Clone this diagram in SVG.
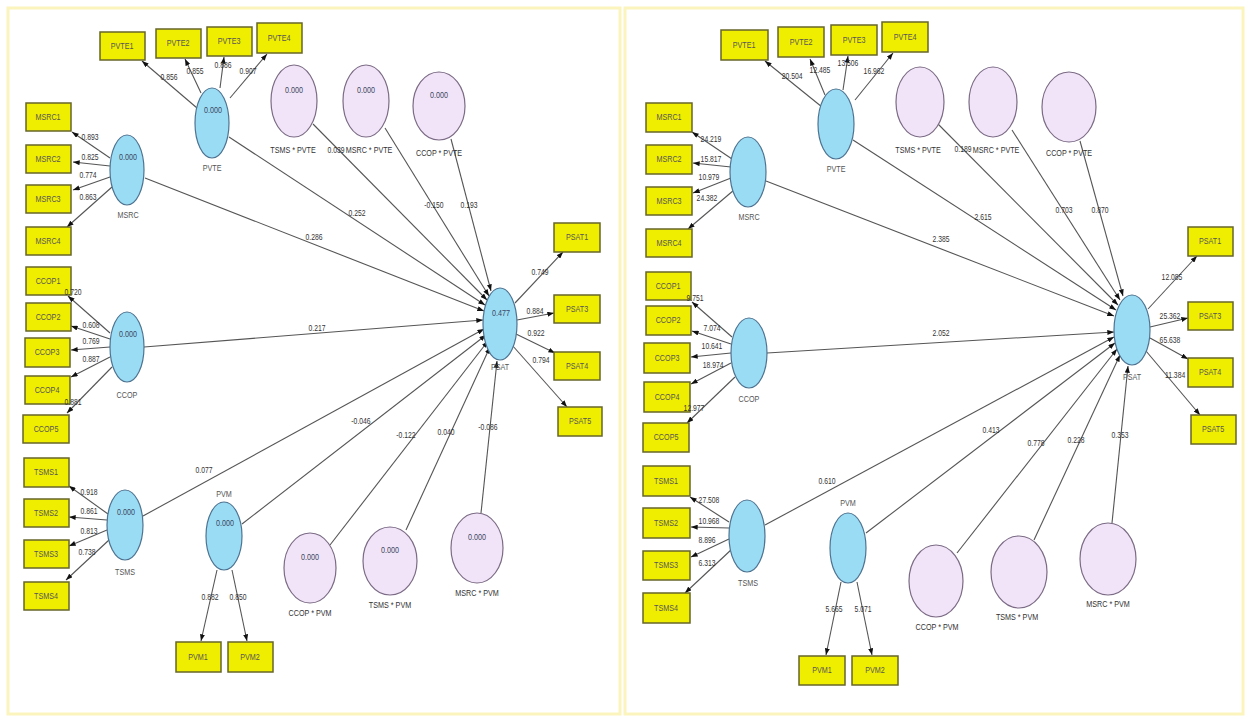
<svg xmlns="http://www.w3.org/2000/svg" width="1253" height="724" viewBox="0 0 1253 724">
<style>
.ind rect{fill:#f0ee00;stroke:#66662a;stroke-width:1.5}
.lv ellipse{fill:#9bdcf5;stroke:#4d7391;stroke-width:1.2}
.it ellipse{fill:#f2e4f8;stroke:#7b6b85;stroke-width:1.2}
text{font-family:"Liberation Sans Narrow","Liberation Sans",sans-serif;text-anchor:middle;transform-box:fill-box;transform-origin:center;transform:scaleX(0.8)}
.t{font-size:9px;fill:#555}
.v{font-size:9px;fill:#3a4660}
.lb{font-size:9px;fill:#333}
.n{font-size:8.5px;fill:#333}
.c line{stroke:#555;stroke-width:1.1;marker-end:url(#ah)}
.frame{fill:#fff;stroke:#fbf4bd;stroke-width:3}
</style>
<defs>
<marker id="ah" viewBox="0 0 8 6" refX="8" refY="3" markerWidth="7" markerHeight="5" orient="auto" markerUnits="userSpaceOnUse">
<path d="M0,0 L8,3 L0,6 z" fill="#111"/>
</marker>
</defs>
<rect width="1253" height="724" fill="#fff"/>
<rect class="frame" x="8" y="8" width="612" height="706"/>
<rect class="frame" x="625" y="8" width="618" height="706"/>

<!-- LEFT PANEL CONNECTORS -->
<g id="connectors-left" class="c">
<line x1="197" y1="108" x2="142" y2="61"/>
<line x1="201" y1="93" x2="185" y2="59"/>
<line x1="220" y1="88" x2="224" y2="57"/>
<line x1="230" y1="98" x2="267" y2="54"/>
<line x1="110" y1="158" x2="72" y2="132"/>
<line x1="110" y1="166" x2="73" y2="162"/>
<line x1="110" y1="177" x2="73" y2="190"/>
<line x1="112" y1="187" x2="67" y2="227"/>
<line x1="110" y1="333" x2="68" y2="296"/>
<line x1="110" y1="339" x2="71" y2="326"/>
<line x1="110" y1="347" x2="71" y2="350"/>
<line x1="110" y1="357" x2="71" y2="377"/>
<line x1="112" y1="367" x2="67" y2="413"/>
<line x1="108" y1="514" x2="69" y2="486"/>
<line x1="107" y1="520" x2="69" y2="517"/>
<line x1="107" y1="530" x2="69" y2="546"/>
<line x1="109" y1="540" x2="66" y2="580"/>
<line x1="217" y1="570" x2="201" y2="641"/>
<line x1="232" y1="570" x2="247" y2="641"/>
<line x1="515" y1="303" x2="563" y2="252"/>
<line x1="517" y1="320" x2="554" y2="313"/>
<line x1="516" y1="334" x2="555" y2="353"/>
<line x1="512" y1="345" x2="567" y2="407"/>
<line x1="145" y1="178" x2="484" y2="311"/>
<line x1="229" y1="137" x2="485" y2="305"/>
<line x1="313" y1="124" x2="487" y2="300"/>
<line x1="385" y1="128" x2="489" y2="296"/>
<line x1="451" y1="139" x2="491" y2="291"/>
<line x1="144" y1="347" x2="483" y2="320"/>
<line x1="143" y1="516" x2="484" y2="329"/>
<line x1="242" y1="524" x2="486" y2="335"/>
<line x1="330" y1="545" x2="488" y2="341"/>
<line x1="406" y1="530" x2="490" y2="347"/>
<line x1="481" y1="513" x2="497" y2="361"/>
</g>

<!-- LEFT PANEL NODES -->
<g id="L-PVTE1" class="ind"><rect x="100" y="32" width="45" height="28"/><text class="t" x="122" y="49">PVTE1</text></g>
<g id="L-PVTE2" class="ind"><rect x="156" y="29" width="45" height="29"/><text class="t" x="178" y="46">PVTE2</text></g>
<g id="L-PVTE3" class="ind"><rect x="207" y="27" width="45" height="29"/><text class="t" x="229" y="44">PVTE3</text></g>
<g id="L-PVTE4" class="ind"><rect x="257" y="23" width="45" height="30"/><text class="t" x="279" y="41">PVTE4</text></g>
<g id="L-MSRC1" class="ind"><rect x="26" y="103" width="45" height="28"/><text class="t" x="48" y="120">MSRC1</text></g>
<g id="L-MSRC2" class="ind"><rect x="26" y="145" width="45" height="28"/><text class="t" x="48" y="162">MSRC2</text></g>
<g id="L-MSRC3" class="ind"><rect x="26" y="185" width="45" height="28"/><text class="t" x="48" y="202">MSRC3</text></g>
<g id="L-MSRC4" class="ind"><rect x="26" y="227" width="45" height="28"/><text class="t" x="48" y="244">MSRC4</text></g>
<g id="L-CCOP1" class="ind"><rect x="26" y="267" width="45" height="28"/><text class="t" x="48" y="284">CCOP1</text></g>
<g id="L-CCOP2" class="ind"><rect x="26" y="303" width="45" height="28"/><text class="t" x="48" y="320">CCOP2</text></g>
<g id="L-CCOP3" class="ind"><rect x="25" y="338" width="45" height="29"/><text class="t" x="47" y="355">CCOP3</text></g>
<g id="L-CCOP4" class="ind"><rect x="25" y="376" width="45" height="28"/><text class="t" x="47" y="393">CCOP4</text></g>
<g id="L-CCOP5" class="ind"><rect x="23" y="415" width="46" height="28"/><text class="t" x="46" y="432">CCOP5</text></g>
<g id="L-TSMS1" class="ind"><rect x="24" y="458" width="45" height="29"/><text class="t" x="46" y="475">TSMS1</text></g>
<g id="L-TSMS2" class="ind"><rect x="24" y="499" width="45" height="28"/><text class="t" x="46" y="516">TSMS2</text></g>
<g id="L-TSMS3" class="ind"><rect x="24" y="540" width="45" height="28"/><text class="t" x="46" y="557">TSMS3</text></g>
<g id="L-TSMS4" class="ind"><rect x="24" y="582" width="45" height="28"/><text class="t" x="46" y="599">TSMS4</text></g>
<g id="L-PVM1" class="ind"><rect x="176" y="642" width="45" height="30"/><text class="t" x="198" y="660">PVM1</text></g>
<g id="L-PVM2" class="ind"><rect x="228" y="642" width="45" height="30"/><text class="t" x="250" y="660">PVM2</text></g>
<g id="L-PSAT1" class="ind"><rect x="554" y="223" width="46" height="29"/><text class="t" x="577" y="240">PSAT1</text></g>
<g id="L-PSAT3" class="ind"><rect x="554" y="295" width="46" height="28"/><text class="t" x="577" y="312">PSAT3</text></g>
<g id="L-PSAT4" class="ind"><rect x="554" y="352" width="46" height="28"/><text class="t" x="577" y="369">PSAT4</text></g>
<g id="L-PSAT5" class="ind"><rect x="558" y="407" width="44" height="29"/><text class="t" x="580" y="424">PSAT5</text></g>

<g id="L-PVTE" class="lv"><ellipse cx="212" cy="123" rx="17" ry="35"/><text class="v" x="213" y="113">0.000</text><text class="t" x="212" y="171">PVTE</text></g>
<g id="L-MSRC" class="lv"><ellipse cx="127" cy="170" rx="17" ry="35"/><text class="v" x="128" y="160">0.000</text><text class="t" x="128" y="218">MSRC</text></g>
<g id="L-CCOP" class="lv"><ellipse cx="127" cy="347" rx="17" ry="35"/><text class="v" x="128" y="337">0.000</text><text class="t" x="127" y="398">CCOP</text></g>
<g id="L-TSMS" class="lv"><ellipse cx="125" cy="525" rx="18" ry="35"/><text class="v" x="126" y="515">0.000</text><text class="t" x="125" y="575">TSMS</text></g>
<g id="L-PVM" class="lv"><ellipse cx="224" cy="536" rx="18" ry="34"/><text class="v" x="225" y="526">0.000</text><text class="t" x="224" y="497">PVM</text></g>
<g id="L-PSAT" class="lv"><ellipse cx="500" cy="324" rx="17" ry="36"/><text class="v" x="501" y="316">0.477</text><text class="t" x="500" y="370">PSAT</text></g>
<g id="L-TSMSxPVTE" class="it"><ellipse cx="294" cy="101" rx="23" ry="36"/><text class="v" x="294" y="93">0.000</text><text class="lb" x="293" y="153">TSMS * PVTE</text></g>
<g id="L-MSRCxPVTE" class="it"><ellipse cx="366" cy="101" rx="23" ry="36"/><text class="v" x="366" y="93">0.000</text><text class="lb" x="369" y="153">MSRC * PVTE</text></g>
<g id="L-CCOPxPVTE" class="it"><ellipse cx="439" cy="106" rx="26" ry="34"/><text class="v" x="439" y="98">0.000</text><text class="lb" x="439" y="156">CCOP * PVTE</text></g>
<g id="L-CCOPxPVM" class="it"><ellipse cx="310" cy="568" rx="26" ry="35"/><text class="v" x="310" y="560">0.000</text><text class="lb" x="310" y="616">CCOP * PVM</text></g>
<g id="L-TSMSxPVM" class="it"><ellipse cx="390" cy="561" rx="27" ry="34"/><text class="v" x="390" y="553">0.000</text><text class="lb" x="390" y="608">TSMS * PVM</text></g>
<g id="L-MSRCxPVM" class="it"><ellipse cx="477" cy="548" rx="26" ry="35"/><text class="v" x="477" y="540">0.000</text><text class="lb" x="477" y="596">MSRC * PVM</text></g>

<g id="conn-labels-left" class="n">
<text x="169" y="80">0.856</text>
<text x="195" y="74">0.855</text>
<text x="223" y="68">0.886</text>
<text x="248" y="74">0.907</text>
<text x="90" y="140">0.893</text>
<text x="90" y="160">0.825</text>
<text x="88" y="178">0.774</text>
<text x="88" y="200">0.863</text>
<text x="73" y="295">0.720</text>
<text x="91" y="328">0.608</text>
<text x="91" y="344">0.769</text>
<text x="91" y="362">0.887</text>
<text x="73" y="405">0.881</text>
<text x="89" y="495">0.918</text>
<text x="89" y="514">0.861</text>
<text x="89" y="534">0.813</text>
<text x="87" y="555">0.738</text>
<text x="210" y="600">0.882</text>
<text x="238" y="600">0.850</text>
<text x="540" y="275">0.749</text>
<text x="535" y="314">0.884</text>
<text x="536" y="336">0.922</text>
<text x="541" y="363">0.794</text>
<text x="314" y="240">0.286</text>
<text x="357" y="216">0.252</text>
<text x="336" y="153">0.039</text>
<text x="434" y="208">-0.150</text>
<text x="469" y="208">0.193</text>
<text x="317" y="331">0.217</text>
<text x="204" y="473">0.077</text>
<text x="361" y="424">-0.046</text>
<text x="406" y="438">-0.122</text>
<text x="446" y="435">0.040</text>
<text x="488" y="430">-0.086</text>
</g>

<!-- RIGHT PANEL CONNECTORS -->
<g id="connectors-right" class="c">
<line x1="822" y1="107" x2="765" y2="61"/>
<line x1="825" y1="95" x2="810" y2="59"/>
<line x1="843" y1="90" x2="848" y2="56"/>
<line x1="855" y1="100" x2="893" y2="53"/>
<line x1="732" y1="159" x2="692" y2="132"/>
<line x1="731" y1="167" x2="693" y2="163"/>
<line x1="731" y1="178" x2="693" y2="193"/>
<line x1="734" y1="190" x2="688" y2="229"/>
<line x1="732" y1="337" x2="692" y2="302"/>
<line x1="731" y1="344" x2="692" y2="331"/>
<line x1="731" y1="353" x2="691" y2="357"/>
<line x1="731" y1="363" x2="691" y2="384"/>
<line x1="735" y1="377" x2="687" y2="423"/>
<line x1="729" y1="522" x2="690" y2="497"/>
<line x1="729" y1="528" x2="691" y2="527"/>
<line x1="729" y1="539" x2="691" y2="557"/>
<line x1="732" y1="549" x2="685" y2="593"/>
<line x1="841" y1="582" x2="826" y2="655"/>
<line x1="857" y1="582" x2="872" y2="655"/>
<line x1="1148" y1="309" x2="1197" y2="256"/>
<line x1="1150" y1="327" x2="1188" y2="318"/>
<line x1="1150" y1="338" x2="1188" y2="359"/>
<line x1="1146" y1="351" x2="1200" y2="415"/>
<line x1="766" y1="181" x2="1114" y2="316"/>
<line x1="853" y1="140" x2="1116" y2="310"/>
<line x1="938" y1="124" x2="1118" y2="305"/>
<line x1="1012" y1="130" x2="1120" y2="300"/>
<line x1="1080" y1="141" x2="1123" y2="296"/>
<line x1="767" y1="353" x2="1114" y2="332"/>
<line x1="765" y1="525" x2="1114" y2="337"/>
<line x1="866" y1="533" x2="1115" y2="343"/>
<line x1="957" y1="553" x2="1117" y2="349"/>
<line x1="1034" y1="540" x2="1120" y2="355"/>
<line x1="1112" y1="523" x2="1128" y2="366"/>
</g>

<!-- RIGHT PANEL NODES -->
<g id="R-PVTE1" class="ind"><rect x="721" y="30" width="47" height="30"/><text class="t" x="744" y="48">PVTE1</text></g>
<g id="R-PVTE2" class="ind"><rect x="778" y="27" width="46" height="30"/><text class="t" x="801" y="45">PVTE2</text></g>
<g id="R-PVTE3" class="ind"><rect x="831" y="25" width="46" height="30"/><text class="t" x="854" y="43">PVTE3</text></g>
<g id="R-PVTE4" class="ind"><rect x="882" y="22" width="46" height="30"/><text class="t" x="905" y="40">PVTE4</text></g>
<g id="R-MSRC1" class="ind"><rect x="646" y="103" width="46" height="29"/><text class="t" x="669" y="120">MSRC1</text></g>
<g id="R-MSRC2" class="ind"><rect x="646" y="145" width="46" height="29"/><text class="t" x="669" y="162">MSRC2</text></g>
<g id="R-MSRC3" class="ind"><rect x="646" y="187" width="46" height="28"/><text class="t" x="669" y="204">MSRC3</text></g>
<g id="R-MSRC4" class="ind"><rect x="646" y="229" width="46" height="28"/><text class="t" x="669" y="246">MSRC4</text></g>
<g id="R-CCOP1" class="ind"><rect x="646" y="272" width="45" height="28"/><text class="t" x="668" y="289">CCOP1</text></g>
<g id="R-CCOP2" class="ind"><rect x="646" y="306" width="45" height="29"/><text class="t" x="668" y="323">CCOP2</text></g>
<g id="R-CCOP3" class="ind"><rect x="644" y="343" width="46" height="30"/><text class="t" x="667" y="361">CCOP3</text></g>
<g id="R-CCOP4" class="ind"><rect x="644" y="382" width="46" height="30"/><text class="t" x="667" y="400">CCOP4</text></g>
<g id="R-CCOP5" class="ind"><rect x="643" y="423" width="46" height="29"/><text class="t" x="666" y="440">CCOP5</text></g>
<g id="R-TSMS1" class="ind"><rect x="643" y="466" width="47" height="30"/><text class="t" x="666" y="484">TSMS1</text></g>
<g id="R-TSMS2" class="ind"><rect x="643" y="508" width="47" height="30"/><text class="t" x="666" y="526">TSMS2</text></g>
<g id="R-TSMS3" class="ind"><rect x="643" y="551" width="47" height="29"/><text class="t" x="666" y="568">TSMS3</text></g>
<g id="R-TSMS4" class="ind"><rect x="643" y="593" width="47" height="30"/><text class="t" x="666" y="611">TSMS4</text></g>
<g id="R-PVM1" class="ind"><rect x="799" y="656" width="46" height="29"/><text class="t" x="822" y="673">PVM1</text></g>
<g id="R-PVM2" class="ind"><rect x="852" y="656" width="46" height="29"/><text class="t" x="875" y="673">PVM2</text></g>
<g id="R-PSAT1" class="ind"><rect x="1188" y="227" width="45" height="29"/><text class="t" x="1210" y="244">PSAT1</text></g>
<g id="R-PSAT3" class="ind"><rect x="1188" y="302" width="45" height="28"/><text class="t" x="1210" y="319">PSAT3</text></g>
<g id="R-PSAT4" class="ind"><rect x="1188" y="358" width="45" height="29"/><text class="t" x="1210" y="375">PSAT4</text></g>
<g id="R-PSAT5" class="ind"><rect x="1191" y="415" width="45" height="29"/><text class="t" x="1213" y="432">PSAT5</text></g>

<g id="R-PVTE" class="lv"><ellipse cx="836" cy="124" rx="18" ry="35"/><text class="t" x="836" y="172">PVTE</text></g>
<g id="R-MSRC" class="lv"><ellipse cx="748" cy="172" rx="18" ry="35"/><text class="t" x="749" y="220">MSRC</text></g>
<g id="R-CCOP" class="lv"><ellipse cx="749" cy="353" rx="18" ry="35"/><text class="t" x="749" y="402">CCOP</text></g>
<g id="R-TSMS" class="lv"><ellipse cx="747" cy="536" rx="18" ry="36"/><text class="t" x="748" y="586">TSMS</text></g>
<g id="R-PVM" class="lv"><ellipse cx="848" cy="548" rx="18" ry="35"/><text class="t" x="848" y="506">PVM</text></g>
<g id="R-PSAT" class="lv"><ellipse cx="1132" cy="330" rx="18" ry="35"/><text class="t" x="1132" y="380">PSAT</text></g>
<g id="R-TSMSxPVTE" class="it"><ellipse cx="920" cy="102" rx="24" ry="35"/><text class="lb" x="918" y="153">TSMS * PVTE</text></g>
<g id="R-MSRCxPVTE" class="it"><ellipse cx="993" cy="102" rx="24" ry="35"/><text class="lb" x="996" y="153">MSRC * PVTE</text></g>
<g id="R-CCOPxPVTE" class="it"><ellipse cx="1069" cy="107" rx="27" ry="35"/><text class="lb" x="1069" y="156">CCOP * PVTE</text></g>
<g id="R-CCOPxPVM" class="it"><ellipse cx="936" cy="581" rx="27" ry="36"/><text class="lb" x="937" y="630">CCOP * PVM</text></g>
<g id="R-TSMSxPVM" class="it"><ellipse cx="1019" cy="572" rx="28" ry="36"/><text class="lb" x="1017" y="620">TSMS * PVM</text></g>
<g id="R-MSRCxPVM" class="it"><ellipse cx="1108" cy="559" rx="28" ry="36"/><text class="lb" x="1108" y="607">MSRC * PVM</text></g>

<g id="conn-labels-right" class="n">
<text x="792" y="79">20.504</text>
<text x="820" y="73">12.485</text>
<text x="848" y="66">13.506</text>
<text x="874" y="74">16.962</text>
<text x="711" y="142">24.219</text>
<text x="711" y="162">15.817</text>
<text x="709" y="180">10.979</text>
<text x="707" y="201">24.382</text>
<text x="695" y="301">9.751</text>
<text x="712" y="331">7.074</text>
<text x="712" y="349">10.641</text>
<text x="713" y="368">18.974</text>
<text x="694" y="411">12.977</text>
<text x="709" y="503">27.508</text>
<text x="709" y="524">10.968</text>
<text x="707" y="543">8.896</text>
<text x="707" y="566">6.313</text>
<text x="834" y="612">5.665</text>
<text x="863" y="612">5.071</text>
<text x="1172" y="280">12.085</text>
<text x="1170" y="319">25.362</text>
<text x="1170" y="343">65.638</text>
<text x="1175" y="378">11.384</text>
<text x="941" y="242">2.385</text>
<text x="983" y="220">2.615</text>
<text x="963" y="152">0.189</text>
<text x="1064" y="213">0.703</text>
<text x="1100" y="213">0.870</text>
<text x="941" y="336">2.052</text>
<text x="827" y="484">0.610</text>
<text x="991" y="433">0.413</text>
<text x="1036" y="446">0.778</text>
<text x="1076" y="443">0.228</text>
<text x="1120" y="438">0.353</text>
</g>
</svg>
